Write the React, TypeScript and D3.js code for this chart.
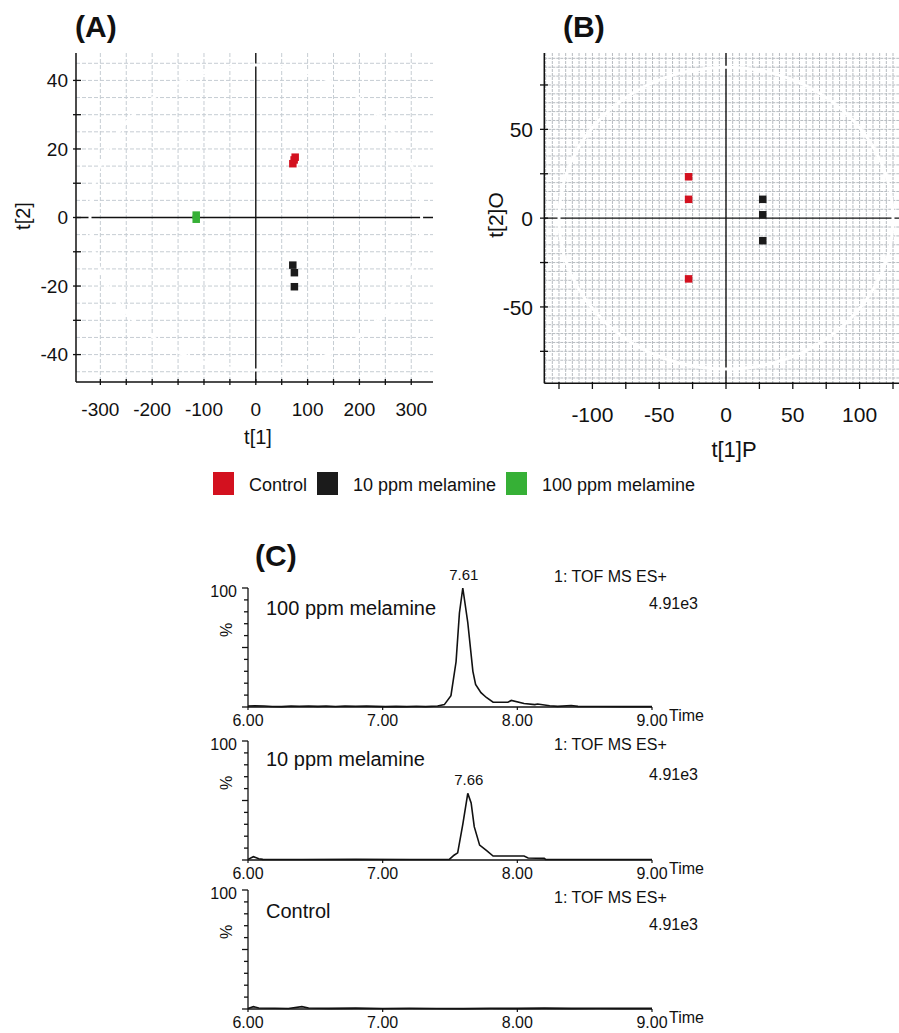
import React from "react";
import * as d3 from "d3";

// groups / legend
const groupNames = ["Control", "10 ppm melamine", "100 ppm melamine"];
const groupColors = ["#d3111f", "#1b1b1b", "#36b036"];

// (A) PLS-DA scores t[1], t[2]
const scoresAControl = [[76, 17.6], [74, 16.8], [71.5, 15.7]];
const scoresA10 = [[71.4, -13.9], [74.5, -16.1], [74.5, -20.2]];
const scoresA100 = [[-115, 0.7], [-115, -0.5]];

// (B) OPLS-DA scores t[1]P, t[2]O
const scoresBControl = [[-28, 23.3], [-28, 10.6], [-28, -34.2]];
const scoresB10 = [[27.5, 10.6], [27.5, 1.9], [27.5, -12.7]];

const xTickLabelsA = [-300, -200, -100, 0, 100, 200, 300];
const yTickLabelsA = [40, 20, 0, -20, -40];
const xTickLabelsB = [-100, -50, 0, 50, 100];
const yTickLabelsB = [50, 0, -50];

// (C) chromatograms: [time (min), % intensity]
const chrom100 = [
  [6.0, 0.8], [6.05, 1.0], [6.12, 0.9], [6.18, 0.4], [6.25, 0.3], [6.32, 0.8], [6.38, 0.6],
  [6.45, 0.9], [6.52, 0.5], [6.58, 0.8], [6.65, 0.4], [6.72, 0.9], [6.8, 0.6], [6.88, 0.8],
  [6.95, 0.5], [7.02, 0.3], [7.1, 0.5], [7.18, 0.3], [7.25, 0.6], [7.32, 0.3], [7.408, 0.8],
  [7.458, 2], [7.507, 9.5], [7.545, 38], [7.57, 79], [7.595, 100], [7.632, 71], [7.67, 30],
  [7.69, 19], [7.73, 12], [7.77, 8], [7.82, 4], [7.93, 4], [7.955, 5.5], [8.05, 3], [8.13, 2],
  [8.15, 2.5], [8.24, 1], [8.3, 0.5], [8.4, 1.3], [8.45, 0.5], [8.6, 0.4], [8.8, 0.3], [9.0, 0.3],
];
const chrom10 = [
  [6.0, 0.5], [6.04, 2.8], [6.08, 1.1], [6.11, 0.5], [6.4, 0.4], [6.8, 0.5], [7.2, 0.4],
  [7.495, 0.5], [7.53, 4], [7.557, 6], [7.595, 30], [7.632, 56], [7.657, 48], [7.68, 28],
  [7.72, 12.5], [7.77, 8], [7.82, 3.3], [8.05, 3.3], [8.08, 1.7], [8.2, 1.4], [8.21, 0.5],
  [8.5, 0.4], [9.0, 0.4],
];
const chromControl = [
  [6.0, 0.5], [6.04, 2], [6.08, 0.8], [6.2, 0.6], [6.3, 0.4], [6.4, 2], [6.45, 0.8], [6.6, 0.5],
  [6.8, 0.7], [7.0, 0.4], [7.2, 0.6], [7.4, 0.4], [7.6, 0.3], [7.8, 0.6], [8.0, 0.5], [8.2, 0.7],
  [8.4, 0.5], [8.6, 0.6], [8.8, 0.5], [9.0, 0.5],
];
const chromTitles = ["100 ppm melamine", "10 ppm melamine", "Control"];
const chromPeakLabels = ["7.61", "7.66", null];
const chromTimeTicks = [6, 7, 8, 9];

const FONT = "'Liberation Sans', Arial, sans-serif";

const Square = ({ x, y, color, size = 7.5 }) => (
  <rect x={x - size / 2} y={y - size / 2} width={size} height={size} fill={color} />
);

const PanelA = () => {
  const x = d3.scaleLinear().domain([-347, 342]).range([76, 433]);
  const y = d3.scaleLinear().domain([-48, 48]).range([382, 53]);
  const vGrid = d3.range(-300, 301, 50).filter((d) => d !== 0);
  const hGrid = d3.range(-45, 46, 5).filter((d) => d !== 0);
  const xMinor = d3.range(-300, 301, 50);
  const yMinor = d3.range(-40, 41, 10);
  const groups = [scoresAControl, scoresA10, scoresA100];
  return (
    <g>
      {vGrid.map((d) => (
        <line key={"v" + d} x1={x(d)} x2={x(d)} y1={53} y2={382} stroke="#c6cdd3" strokeDasharray="4 2" />
      ))}
      {hGrid.map((d) => (
        <line key={"h" + d} x1={76} x2={433} y1={y(d)} y2={y(d)} stroke="#c6cdd3" strokeDasharray="4 2" />
      ))}
      <line x1={76} x2={433} y1={y(0)} y2={y(0)} stroke="#111" strokeWidth={1.4} />
      <line x1={x(0)} x2={x(0)} y1={53} y2={382} stroke="#111" strokeWidth={1.4} />
      <ellipse cx={x(0)} cy={y(0)} rx={x(320) - x(0)} ry={y(0) - y(44.5)} fill="none" stroke="#fff" strokeWidth={3} />
      <line x1={76} x2={76} y1={53} y2={382} stroke="#111" strokeWidth={1.5} />
      <line x1={76} x2={433} y1={382} y2={382} stroke="#111" strokeWidth={1.5} />
      {xMinor.map((d) => (
        <line key={"xt" + d} x1={x(d)} x2={x(d)} y1={379} y2={385} stroke="#111" strokeWidth={1.3} />
      ))}
      {yMinor.map((d) => (
        <line key={"yt" + d} x1={73} x2={81} y1={y(d)} y2={y(d)} stroke="#111" strokeWidth={1.3} />
      ))}
      {xTickLabelsA.map((d) => (
        <text key={"xl" + d} x={x(d)} y={416} textAnchor="middle" fontSize={19}>{d}</text>
      ))}
      {yTickLabelsA.map((d) => (
        <text key={"yl" + d} x={68} y={y(d)} dy="0.36em" textAnchor="end" fontSize={19}>{d}</text>
      ))}
      <text x={258} y={444} textAnchor="middle" fontSize={20}>t[1]</text>
      <text transform="translate(30,216) rotate(-90)" textAnchor="middle" fontSize={20}>t[2]</text>
      {groups.map((pts, gi) =>
        pts.map((p, i) => <Square key={gi + "-" + i} x={x(p[0])} y={y(p[1])} color={groupColors[gi]} />)
      )}
      <text x={75} y={37} fontSize={30} fontWeight="bold">(A)</text>
    </g>
  );
};

const PanelB = () => {
  const x = d3.scaleLinear().domain([-136, 136]).range([544.3, 907.7]);
  const y = d3.scaleLinear().domain([-93, 93]).range([383.3, 53]);
  const vGrid = d3.range(-135, 136, 5).filter((d) => d !== 0);
  const hGrid = d3.range(-90, 91, 5).filter((d) => d !== 0);
  const xMinor = d3.range(-125, 126, 25);
  const yMinor = d3.range(-75, 76, 25);
  const groups = [scoresBControl, scoresB10];
  return (
    <g>
      {vGrid.map((d) => (
        <line key={"v" + d} x1={x(d)} x2={x(d)} y1={53} y2={383.3} stroke="#b7bcc1" strokeDasharray="3 1" />
      ))}
      {hGrid.map((d) => (
        <line key={"h" + d} x1={544.3} x2={899} y1={y(d)} y2={y(d)} stroke="#b7bcc1" strokeDasharray="3 1" />
      ))}
      <line x1={544.3} x2={899} y1={y(0)} y2={y(0)} stroke="#111" strokeWidth={1.4} />
      <line x1={x(0)} x2={x(0)} y1={53} y2={383.3} stroke="#111" strokeWidth={1.4} />
      <ellipse cx={x(0)} cy={y(0)} rx={x(125) - x(0)} ry={y(0) - y(85)} fill="none" stroke="#fff" strokeWidth={3} />
      <line x1={544.3} x2={544.3} y1={53} y2={383.3} stroke="#111" strokeWidth={1.5} />
      <line x1={544.3} x2={899} y1={383.3} y2={383.3} stroke="#111" strokeWidth={1.5} />
      {xMinor.map((d) => (
        <line key={"xt" + d} x1={x(d)} x2={x(d)} y1={382} y2={389} stroke="#111" strokeWidth={1.3} />
      ))}
      {yMinor.map((d) => (
        <line key={"yt" + d} x1={540} x2={548} y1={y(d)} y2={y(d)} stroke="#111" strokeWidth={1.3} />
      ))}
      {xTickLabelsB.map((d) => (
        <text key={"xl" + d} x={x(d)} y={422} textAnchor="middle" fontSize={21}>{d}</text>
      ))}
      {yTickLabelsB.map((d) => (
        <text key={"yl" + d} x={533} y={y(d)} dy="0.36em" textAnchor="end" fontSize={21}>{d}</text>
      ))}
      <text x={734} y={457} textAnchor="middle" fontSize={22}>t[1]P</text>
      <text transform="translate(503,215) rotate(-90)" textAnchor="middle" fontSize={21}>t[2]O</text>
      {groups.map((pts, gi) =>
        pts.map((p, i) => <Square key={gi + "-" + i} x={x(p[0])} y={y(p[1])} color={groupColors[gi]} />)
      )}
      <text x={563} y={37} fontSize={30} fontWeight="bold">(B)</text>
    </g>
  );
};

const Legend = () => {
  const xs = [213, 317, 506];
  return (
    <g>
      {groupNames.map((name, i) => (
        <g key={name} transform={`translate(${xs[i]},472)`}>
          <rect width={21} height={23} fill={groupColors[i]} />
          <text x={36} y={19} fontSize={18}>{name}</text>
        </g>
      ))}
    </g>
  );
};

// vertical layout of the three chromatograms
const chromLayout = [
  { top: 588, tof: -6, scale: 21, title: 27 },
  { top: 741, tof: 9, scale: 39, title: 25 },
  { top: 890, tof: 13, scale: 40, title: 28 },
];

const Chromatogram = ({ data, title, peakLabel, layout }) => {
  const h = 119;
  const x = d3.scaleLinear().domain([6, 9]).range([248, 652]);
  const y = d3.scaleLinear().domain([0, 100]).range([layout.top + h, layout.top]);
  const line = d3.line().x((d) => x(d[0])).y((d) => y(d[1]));
  const base = layout.top + h;
  const apex = data.reduce((a, b) => (b[1] > a[1] ? b : a), data[0]);
  return (
    <g>
      <line x1={248} x2={248} y1={layout.top} y2={base} stroke="#111" strokeWidth={1.3} />
      {d3.range(0, 101, 10).map((d) => (
        <line key={d} x1={d % 50 === 0 ? 242 : 244} x2={248} y1={y(d)} y2={y(d)} stroke="#111" strokeWidth={1.3} />
      ))}
      <line x1={248} x2={652} y1={base} y2={base} stroke="#111" strokeWidth={1.3} />
      {chromTimeTicks.map((t) => (
        <line key={t} x1={x(t)} x2={x(t)} y1={base} y2={base + 3} stroke="#111" strokeWidth={1.2} />
      ))}
      <path d={line(data)} fill="none" stroke="#111" strokeWidth={1.6} />
      {chromTimeTicks.map((t) => (
        <text key={"l" + t} x={x(t)} y={base + 19} textAnchor="middle" fontSize={16}>{t.toFixed(2)}</text>
      ))}
      <text x={x(9) + 17} y={base + 14} fontSize={16}>Time</text>
      <text x={237} y={layout.top + 9} textAnchor="end" fontSize={16}>100</text>
      <text transform={`translate(232,${layout.top + 42}) rotate(-90)`} textAnchor="middle" fontSize={16}>%</text>
      <text x={266} y={layout.top + layout.title} fontSize={20}>{title}</text>
      {peakLabel && (
        <text x={x(apex[0]) + 1} y={y(apex[1]) - 8} textAnchor="middle" fontSize={15}>{peakLabel}</text>
      )}
      <text x={554} y={layout.top + layout.tof} fontSize={16}>1: TOF MS ES+</text>
      <text x={698} y={layout.top + layout.scale} textAnchor="end" fontSize={16}>4.91e3</text>
    </g>
  );
};

const App = () => {
  const series = [chrom100, chrom10, chromControl];
  return (
    <div style={{ position: "absolute", left: 0, top: 0 }}>
      <svg width={899} height={1033} style={{ display: "block", background: "#fff" }} fontFamily={FONT} fill="#111">
        <PanelA />
        <PanelB />
        <Legend />
        <text x={255} y={566} fontSize={30} fontWeight="bold">(C)</text>
        {series.map((s, i) => (
          <Chromatogram key={i} data={s} title={chromTitles[i]} peakLabel={chromPeakLabels[i]} layout={chromLayout[i]} />
        ))}
      </svg>
    </div>
  );
};

export default App;
